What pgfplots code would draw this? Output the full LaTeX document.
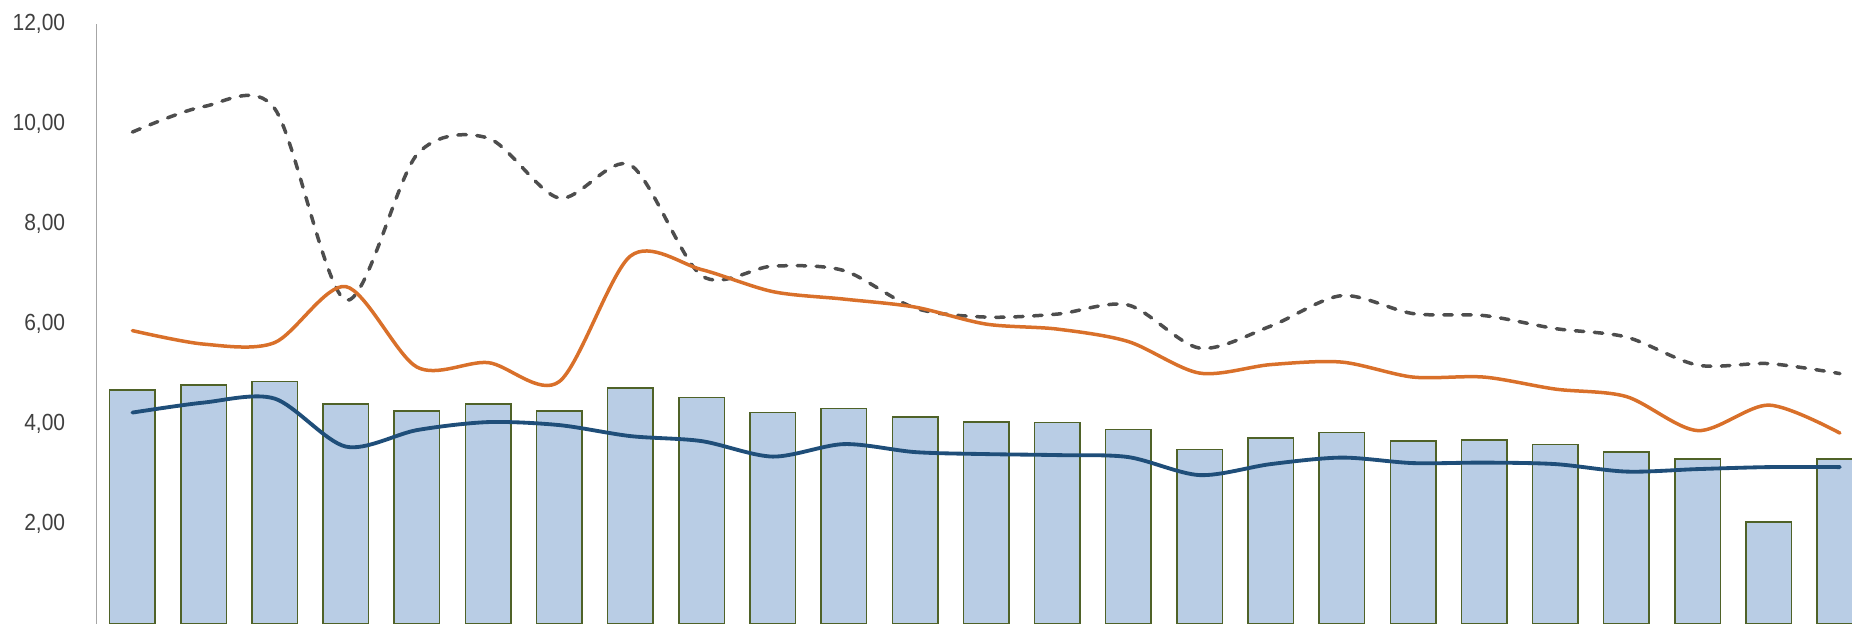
\documentclass[border=0pt]{standalone}
\usepackage{fontspec}
\setmainfont{Liberation Sans}
\newfontfamily\labfont[FakeStretch=0.9]{Liberation Sans}
\usepackage{pgfplots}
\usepackage{pgfplotstable}
\pgfplotsset{compat=1.18}
\definecolor{barfill}{HTML}{B9CDE5}
\definecolor{baredge}{HTML}{4F6228}
\definecolor{dashc}{HTML}{4D4D4D}
\definecolor{orangec}{HTML}{D9702A}
\definecolor{bluec}{HTML}{1F4E79}
\definecolor{axisc}{HTML}{A6A6A6}
\definecolor{labc}{HTML}{404040}

\pgfplotstableread{
i  bar  dash  orange blue
0  4.67 9.83  5.86  4.22
1  4.77 10.34 5.59  4.42
2  4.84 10.30 5.62  4.50
3  4.39 6.47  6.74  3.54
4  4.25 9.38  5.13  3.87
5  4.39 9.71  5.22  4.03
6  4.25 8.51  4.84  3.97
7  4.71 9.17  7.35  3.75
8  4.52 6.96  7.08  3.65
9  4.22 7.15  6.64  3.34
10 4.30 7.06  6.49  3.59
11 4.13 6.31  6.33  3.43
12 4.03 6.13  5.99  3.39
13 4.02 6.19  5.89  3.37
14 3.88 6.37  5.64  3.33
15 3.48 5.51  5.01  2.97
16 3.71 5.95  5.18  3.19
17 3.82 6.56  5.23  3.32
18 3.65 6.20  4.93  3.21
19 3.67 6.16  4.93  3.22
20 3.58 5.90  4.69  3.19
21 3.43 5.73  4.54  3.04
22 3.29 5.17  3.86  3.09
23 2.03 5.20  4.37  3.13
24 3.29 5.00  3.81  3.13
}\data

\begin{document}
\begin{tikzpicture}
\begin{axis}[
  at={(29.04pt,0.12pt)}, anchor=south west,
  scale only axis, width=533.6pt, height=180pt,
  xmin=-0.5, xmax=24.5, ymin=0, ymax=12,
  axis x line=none, axis y line=left,
  y axis line style={-, draw=axisc, line width=0.4pt},
  ytick={2,4,6,8,10,12},
  major tick length=0pt,
  ytick style={draw=none},
  yticklabel style={font=\labfont\fontsize{7}{8.4}\selectfont, text=labc, anchor=east, inner sep=0pt, xshift=-9.3pt},
  /pgf/number format/fixed,
  /pgf/number format/fixed zerofill,
  /pgf/number format/precision=2,
  /pgf/number format/use comma,
  /pgf/number format/assume math mode=true,
]
\addplot[ybar, bar width=13.65pt, bar shift=0pt, fill=barfill, draw=baredge, line width=0.45pt] table[x=i,y=bar]{\data};
\addplot[smooth, no marks, dashc, line width=1.05pt, dash pattern=on 2.55pt off 3.15pt, line cap=round] table[x=i,y=dash]{\data};
\addplot[smooth, no marks, orangec, line width=1.05pt, line cap=round] table[x=i,y=orange]{\data};
\addplot[smooth, no marks, bluec, line width=1.15pt, line cap=round] table[x=i,y=blue]{\data};
\end{axis}
\pgfresetboundingbox
\path[use as bounding box] (0,0) rectangle (555.6pt,187.2pt);
\end{tikzpicture}
\end{document}
